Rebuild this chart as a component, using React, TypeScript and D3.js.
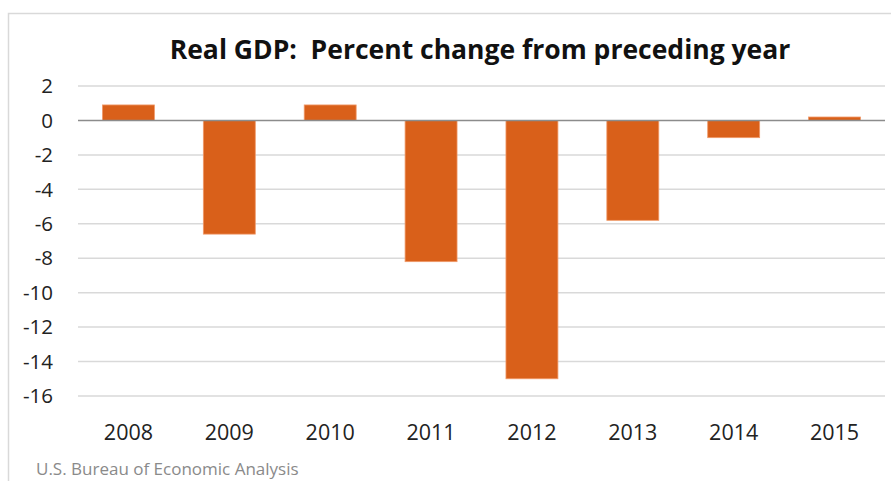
import * as d3 from 'd3'

const years = ['2008', '2009', '2010', '2011', '2012', '2013', '2014', '2015']
const pctChange = [0.9, -6.6, 0.9, -8.2, -15.0, -5.8, -1.0, 0.2]
const yTicks = [2, 0, -2, -4, -6, -8, -10, -12, -14, -16]

const title = 'Real GDP:  Percent change from preceding year'
const source = 'U.S. Bureau of Economic Analysis'

const width = 891
const height = 481
const margin = { top: 86, right: 6, bottom: 85, left: 78 }
const font = '"Open Sans", sans-serif'

export default function App() {
  const x = d3.scaleBand()
    .domain(years)
    .range([margin.left, width - margin.right])
    .paddingInner(0.485)
    .paddingOuter(0.2425)
  const y = d3.scaleLinear()
    .domain([-16, 2])
    .range([height - margin.bottom, margin.top])

  return (
    <svg width={width} height={height} style={{ position: 'absolute', left: 0, top: 0, background: '#fff' }}>
      {/* chart frame, runs off the right and bottom edges */}
      <rect x={8.5} y={13.5} width={width} height={height} fill="none" stroke="#d9d9d9" strokeWidth={1.5} />

      <text x={480} y={59} textAnchor="middle" fontFamily={font} fontWeight="bold" fontSize={26.5} fill="#111"
        style={{ whiteSpace: 'pre' }}>
        {title}
      </text>

      {yTicks.map(t => (
        <g key={t}>
          {t !== 0 && (
            <line x1={margin.left} x2={width - margin.right} y1={y(t)} y2={y(t)} stroke="#d9d9d9" strokeWidth={1.5} />
          )}
          <text x={53} y={y(t)} dy="0.35em" textAnchor="end" fontFamily={font} fontSize={20.5} fill="#222">
            {t}
          </text>
        </g>
      ))}

      {years.map((yr, i) => {
        const v = pctChange[i]
        return (
          <rect
            key={yr}
            x={x(yr)}
            y={y(Math.max(0, v))}
            width={x.bandwidth()}
            height={Math.abs(y(v) - y(0))}
            fill="#d9601a"
            stroke="#f09a6a"
            strokeWidth={0.8}
          />
        )
      })}

      <line x1={margin.left} x2={width - margin.right} y1={y(0)} y2={y(0)} stroke="#8c8c8c" strokeWidth={1.5} />

      {years.map(yr => (
        <text key={yr} x={(x(yr) || 0) + x.bandwidth() / 2} y={440} textAnchor="middle" fontFamily={font} fontSize={21.5} fill="#222">
          {yr}
        </text>
      ))}

      <text x={36} y={475} fontFamily={font} fontSize={17} fill="#8a8a8a">
        {source}
      </text>
    </svg>
  )
}
